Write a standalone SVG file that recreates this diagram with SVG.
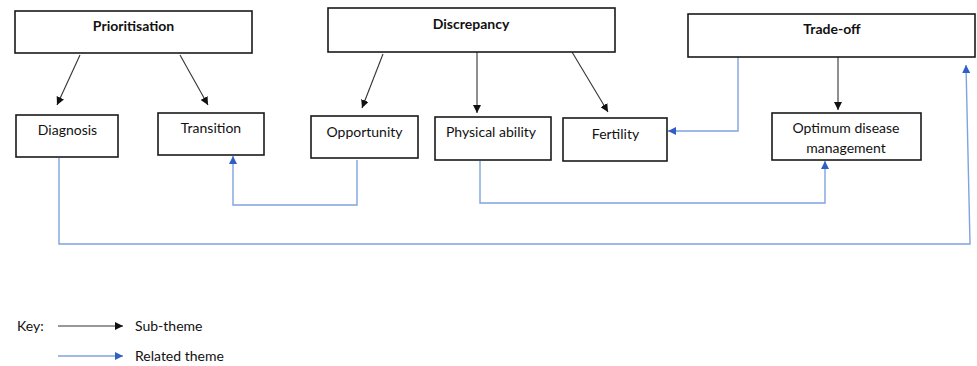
<svg xmlns="http://www.w3.org/2000/svg" width="977" height="366" viewBox="0 0 977 366">
<style>
.box{fill:#fff;stroke:#1a1a1a;stroke-width:1.6}
text{font-family:Lato,"Open Sans","Liberation Sans",sans-serif;font-size:14px;fill:#111;text-anchor:middle}
.b{font-weight:bold}
.l{text-anchor:start}
.sub{fill:none;stroke:#333;stroke-width:1.1}
.rel{fill:none;stroke:#7fa3e0;stroke-width:1.4}
</style>
<defs>
<marker id="ab" viewBox="0 0 10 10" refX="10" refY="5" markerWidth="8" markerHeight="8" markerUnits="userSpaceOnUse" orient="auto"><path d="M0,0 L10,5 L0,10 Z" fill="#111"/></marker>
<marker id="au" viewBox="0 0 10 10" refX="10" refY="5" markerWidth="8" markerHeight="8" markerUnits="userSpaceOnUse" orient="auto"><path d="M0,0 L10,5 L0,10 Z" fill="#2d5fc4"/></marker>
</defs>
<rect width="977" height="366" fill="#fff"/>
<g id="connectors">
<line class="sub" x1="80" y1="55" x2="57" y2="105" marker-end="url(#ab)"/>
<line class="sub" x1="180" y1="55" x2="208" y2="105" marker-end="url(#ab)"/>
<line class="sub" x1="383" y1="54" x2="362" y2="108" marker-end="url(#ab)"/>
<line class="sub" x1="477" y1="52" x2="477" y2="113" marker-end="url(#ab)"/>
<line class="sub" x1="572" y1="52" x2="608" y2="112" marker-end="url(#ab)"/>
<line class="sub" x1="838" y1="57" x2="838" y2="110" marker-end="url(#ab)"/>
<polyline class="rel" points="738,57 738,131 668,131" marker-end="url(#au)"/>
<polyline class="rel" points="357,160 357,205 233,205 233,156" marker-end="url(#au)"/>
<polyline class="rel" points="480,161 480,203 825,203 825,161" marker-end="url(#au)"/>
<polyline class="rel" points="59,158 59,244 970,244 966,65" marker-end="url(#au)"/>
</g>
<g id="prioritisation"><rect class="box" x="15" y="11" width="237" height="42"/><text class="b" x="133.5" y="31">Prioritisation</text></g>
<g id="discrepancy"><rect class="box" x="328" y="8" width="287" height="44"/><text class="b" x="471" y="29">Discrepancy</text></g>
<g id="tradeoff"><rect class="box" x="688" y="14" width="287" height="43"/><text class="b" x="832" y="34">Trade-off</text></g>
<g id="diagnosis"><rect class="box" x="16" y="115" width="102" height="42"/><text x="67.5" y="135">Diagnosis</text></g>
<g id="transition"><rect class="box" x="158" y="113" width="106" height="42"/><text x="211" y="133">Transition</text></g>
<g id="opportunity"><rect class="box" x="311" y="116" width="107" height="42"/><text x="364.5" y="137">Opportunity</text></g>
<g id="physical"><rect class="box" x="435" y="117" width="116" height="43"/><text x="491" y="137">Physical ability</text></g>
<g id="fertility"><rect class="box" x="563" y="118" width="104" height="43"/><text x="615.5" y="139">Fertility</text></g>
<g id="optimum"><rect class="box" x="772" y="113" width="149" height="47"/><text x="846" y="133">Optimum disease</text><text x="846" y="153">management</text></g>
<g id="key">
<text class="l" x="17" y="331">Key:</text>
<line class="sub" x1="58" y1="326" x2="123" y2="326" marker-end="url(#ab)"/>
<text class="l" x="135" y="331">Sub-theme</text>
<line class="rel" x1="58" y1="356" x2="123" y2="356" marker-end="url(#au)"/>
<text class="l" x="135" y="361">Related theme</text>
</g>
</svg>
